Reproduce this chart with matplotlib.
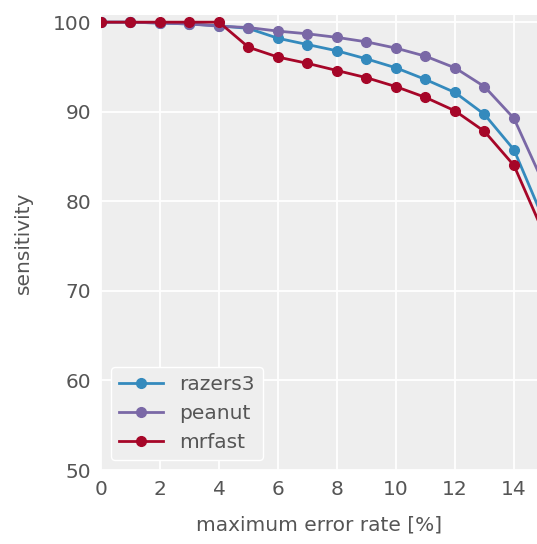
import matplotlib
matplotlib.use("Agg")
import matplotlib.pyplot as plt

# error rate in percent
error_rate = list(range(0, 16))

razers3 = [100.0, 100.0, 99.9, 99.8, 99.6, 99.3, 98.2, 97.5, 96.8, 95.9, 94.9, 93.6, 92.15, 89.7, 85.75, 78.0]
peanut = [100.0, 100.0, 99.9, 99.8, 99.55, 99.4, 99.0, 98.7, 98.3, 97.8, 97.1, 96.2, 94.9, 92.8, 89.25, 82.0]
mrfast = [100.0, 100.0, 100.0, 100.0, 100.0, 97.2, 96.1, 95.4, 94.6, 93.8, 92.8, 91.6, 90.1, 87.8, 84.0, 76.5]

blue = '#348ABD'
purple = '#7A68A6'
red = '#A60628'
text_color = '#555555'

fig = plt.figure(figsize=(5.37, 5.44), dpi=100)
ax = fig.add_axes([101 / 537, 74 / 544, 436 / 537, 455 / 544])
ax.set_facecolor('#EEEEEE')

ax.plot(error_rate, razers3, '-o', color=blue, lw=2, ms=7, label='razers3')
ax.plot(error_rate, peanut, '-o', color=purple, lw=2, ms=7, label='peanut')
ax.plot(error_rate, mrfast, '-o', color=red, lw=2, ms=7, label='mrfast')

ax.set_xlim(0, 14.78)
ax.set_ylim(50, 100.8)
ax.set_xticks(range(0, 15, 2))
ax.set_yticks(range(50, 101, 10))

ax.grid(True, color='white', lw=1.3)
ax.set_axisbelow(True)
for s in ax.spines.values():
    s.set_visible(False)
ax.tick_params(axis='both', length=0, labelsize=14.5, colors=text_color, pad=7)

ax.set_xlabel('maximum error rate [%]', fontsize=14.5, color=text_color, labelpad=12)
ax.set_ylabel('sensitivity', fontsize=14.5, color=text_color, labelpad=14)

leg = ax.legend(loc='lower left', fontsize=14.5, facecolor='#EEEEEE', edgecolor='white',
                framealpha=1, borderaxespad=0.5, handlelength=2.2)
for t in leg.get_texts():
    t.set_color(text_color)

fig.savefig('out.png', dpi=100)
